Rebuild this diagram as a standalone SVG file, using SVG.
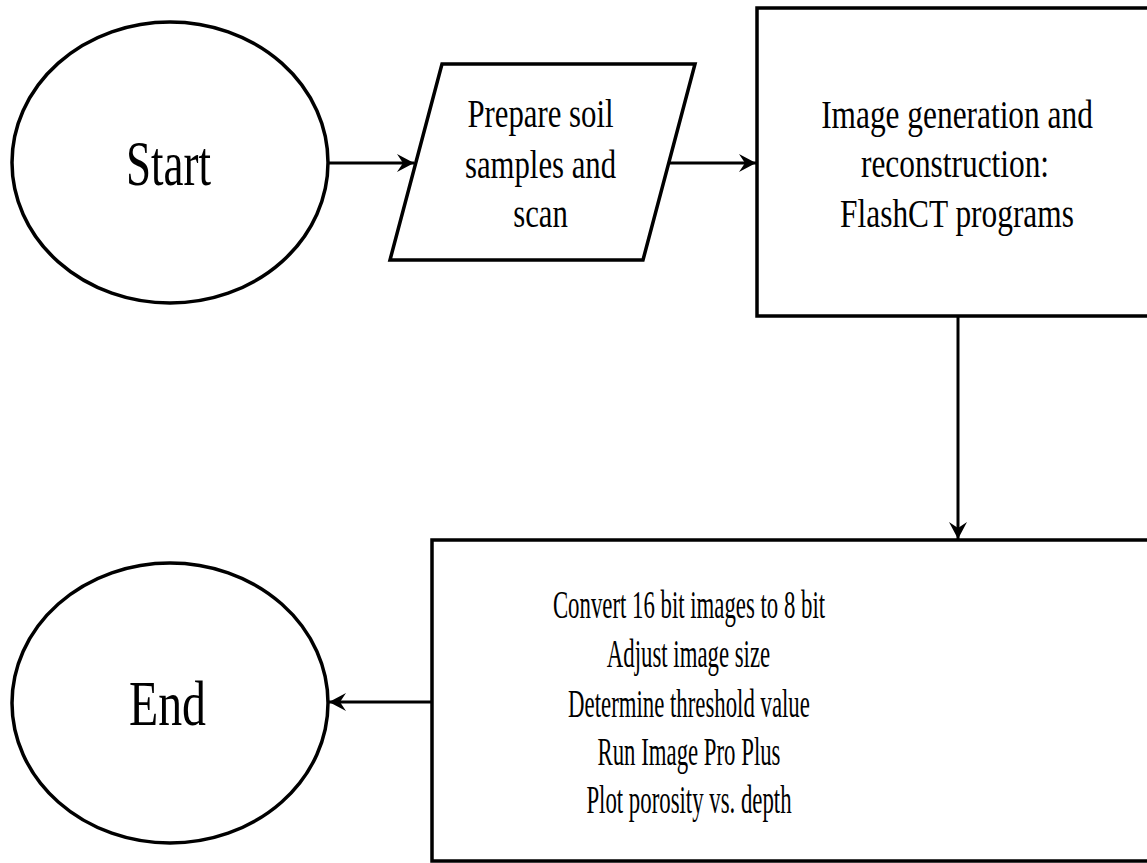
<svg xmlns="http://www.w3.org/2000/svg" width="1147" height="863" viewBox="0 0 1147 863">
<style>
.shape{fill:#ffffff;stroke:#000000;stroke-width:3.5}
.edge{fill:none;stroke:#000000;stroke-width:3}
.t{font-family:"Liberation Serif",Tinos,"DejaVu Serif",serif;fill:#000000;text-anchor:middle}
.big{font-size:63px}
.mid{font-size:41px}
.low{font-size:40px}
</style>
<defs>
<marker id="arr" markerUnits="userSpaceOnUse" markerWidth="22" markerHeight="22" viewBox="-18 -11 20 22" refX="0" refY="0" orient="auto">
<path d="M0,0 L-17,-9 L-11,0 L-17,9 Z" fill="#000000"/>
</marker>
</defs>
<rect width="1147" height="863" fill="#ffffff"/>
<g id="start">
<ellipse class="shape" cx="170" cy="162.5" rx="158" ry="140.5"/>
<text class="t big" transform="translate(168.5,185) scale(0.715,1)">Start</text>
</g>
<g id="prepare">
<polygon class="shape" points="442,64 695,64 643,260 390,260"/>
<text class="t mid" transform="translate(540.5,127) scale(0.75,1)">Prepare soil</text>
<text class="t mid" transform="translate(540.5,178) scale(0.75,1)">samples and</text>
<text class="t mid" transform="translate(540.5,227) scale(0.75,1)">scan</text>
</g>
<g id="imagegen">
<rect class="shape" x="757" y="8" width="410" height="308"/>
<text class="t mid" transform="translate(957,128) scale(0.765,1)">Image generation and</text>
<text class="t mid" transform="translate(955,177) scale(0.765,1)">reconstruction:</text>
<text class="t mid" transform="translate(957,227) scale(0.765,1)">FlashCT programs</text>
</g>
<g id="process">
<rect class="shape" x="432" y="540" width="735" height="321"/>
<text class="t low" transform="translate(689,618) scale(0.57,1)">Convert 16 bit images to 8 bit</text>
<text class="t low" transform="translate(688.5,667) scale(0.57,1)">Adjust image size</text>
<text class="t low" transform="translate(689,717) scale(0.57,1)">Determine threshold value</text>
<text class="t low" transform="translate(689,765) scale(0.57,1)">Run Image Pro Plus</text>
<text class="t low" transform="translate(689,813) scale(0.57,1)">Plot porosity vs. depth</text>
</g>
<g id="end">
<ellipse class="shape" cx="170" cy="703" rx="158" ry="140"/>
<text class="t big" transform="translate(167.5,725) scale(0.76,1)">End</text>
</g>
<g id="connectors">
<line class="edge" x1="328" y1="163" x2="414" y2="163" marker-end="url(#arr)"/>
<line class="edge" x1="669" y1="163" x2="756" y2="163" marker-end="url(#arr)"/>
<line class="edge" x1="958" y1="316" x2="958" y2="539" marker-end="url(#arr)"/>
<line class="edge" x1="432" y1="702" x2="329" y2="702" marker-end="url(#arr)"/>
</g>
</svg>
